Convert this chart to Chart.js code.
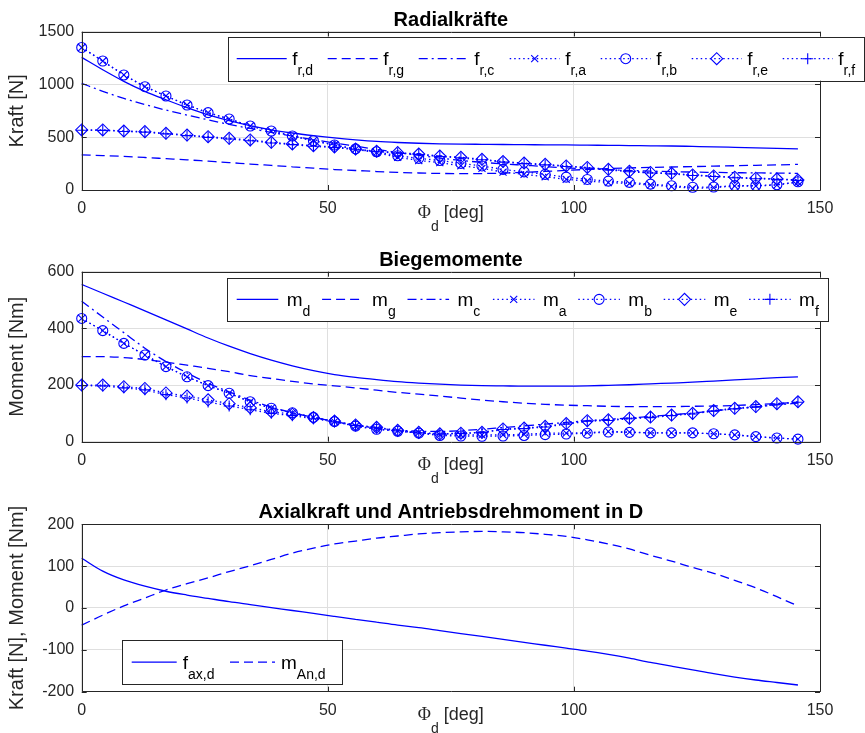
<!DOCTYPE html>
<html lang="de">
<head>
<meta charset="UTF-8">
<title>Radialkräfte, Biegemomente, Axialkraft</title>
<script src="https://cdn.jsdelivr.net/npm/chart.js"></script>
<style>
    body { margin: 0; background: #fff; overflow: hidden; }
    .panel { position: absolute; left: 0; width: 865px; }
</style>
</head>
<body>
<div class="panel" style="top:0;height:244px"><canvas id="c1" width="865" height="244"></canvas></div>
<div class="panel" style="top:244px;height:244px"><canvas id="c2" width="865" height="244"></canvas></div>
<div class="panel" style="top:488px;height:245px"><canvas id="c3" width="865" height="245"></canvas></div>
<script>
// crank angle Phi_d [deg], one value per marker
const phi = [0, 4.28, 8.56, 12.84, 17.12, 21.4, 25.68, 29.96, 34.24, 38.52, 42.8, 47.08, 51.36, 55.64, 59.92,
    64.2, 68.48, 72.76, 77.04, 81.32, 85.6, 89.88, 94.16, 98.44, 102.72, 107, 111.28, 115.56, 119.84,
    124.12, 128.4, 132.68, 136.96, 141.24, 145.52];

// Radialkräfte [N]
const frD = [1257, 1140, 1030, 935, 855, 780, 712, 658, 610, 570, 540, 515, 493, 475, 460, 450, 443, 438, 435, 433, 431, 430, 428, 427, 425, 423, 421, 419, 417, 413, 409, 404, 399, 394, 389];
const frG = [332, 326, 318, 308, 297, 286, 273, 260, 246, 233, 220, 207, 194, 185, 175, 167, 161, 157, 155, 156, 160, 167, 176, 186, 195, 203, 209, 214, 218, 222, 226, 230, 234, 238, 243];
const frC = [1011, 935, 868, 810, 757, 710, 665, 622, 583, 545, 510, 477, 445, 415, 385, 355, 328, 303, 280, 262, 248, 235, 222, 210, 200, 192, 185, 179, 174, 170, 167, 164, 162, 160, 158];
const frA = [1350, 1222, 1090, 979, 891, 805, 733, 673, 606, 559, 512, 467, 426, 386, 354, 310, 280, 259, 230, 205, 170, 149, 126, 101, 85, 70, 62, 47, 32, 16, 22, 38, 38, 47, 75];
const frB = [1350, 1222, 1090, 979, 891, 805, 733, 673, 606, 559, 512, 467, 426, 390, 362, 325, 300, 280, 252, 228, 195, 172, 148, 122, 100, 84, 72, 56, 40, 26, 28, 42, 42, 50, 78];
const frE = [569, 569, 559, 553, 537, 521, 505, 490, 474, 452, 436, 420, 408, 388, 368, 354, 341, 322, 310, 291, 270, 255, 243, 228, 214, 196, 178, 166, 158, 143, 133, 121, 112, 106, 95];
const frF = [566, 565, 555, 548, 532, 515, 499, 483, 467, 445, 430, 414, 402, 382, 363, 349, 336, 317, 304, 286, 264, 250, 238, 223, 209, 191, 173, 161, 153, 138, 128, 116, 107, 101, 90];

// Biegemomente [Nm]
const mD = [555, 524, 493, 462, 430, 398, 366, 337, 311, 288, 268, 251, 237, 227, 219, 212, 207, 203, 200, 198, 197, 196, 196, 196, 197, 199, 201, 204, 207, 210, 214, 218, 222, 226, 229];
const mG = [300, 300, 297, 290, 281, 270, 259, 247, 233, 223, 213, 204, 197, 190, 182, 174, 168, 161, 154, 147, 141, 136, 132, 129, 127, 125, 124, 124, 124, 125, 126, 128, 131, 135, 139];
const mC = [496, 440, 385, 330, 283, 243, 206, 176, 147, 122, 102, 86, 71, 58, 48, 41, 37, 36, 39, 44, 50, 56, 62, 68, 74, 79, 84, 89, 95, 101, 109, 116, 123, 130, 136];
const mA = [435, 392, 347, 306, 265, 229, 198, 171, 141, 118, 102, 86, 71, 55, 44, 38, 32, 24, 24, 24, 24, 26, 30, 30, 32, 36, 34, 31, 31, 31, 28, 24, 18, 13, 9];
const mB = [435, 392, 347, 306, 265, 229, 198, 171, 141, 118, 102, 86, 71, 55, 44, 37, 30, 22, 20, 19, 20, 22, 25, 27, 30, 34, 33, 31, 31, 31, 28, 24, 18, 13, 9];
const mE = [200, 200, 194, 188, 172, 161, 148, 134, 120, 106, 97, 85, 73, 59, 51, 40, 33, 28, 30, 33, 45, 48, 54, 64, 74, 77, 83, 87, 94, 100, 110, 118, 124, 134, 141];
const mF = [198, 197, 190, 183, 166, 154, 140, 126, 113, 100, 92, 81, 70, 57, 49, 38, 31, 27, 29, 32, 43, 46, 52, 62, 72, 75, 81, 85, 92, 98, 108, 116, 122, 132, 139];

// Axialkraft [N] und Antriebsdrehmoment [Nm]
const faxD = [119, 88, 67, 52, 40, 31, 23, 15, 8, 1, -6, -13, -20, -27, -34, -41, -47, -54, -61, -68, -75, -82, -89, -96, -103, -111, -120, -130, -139, -148, -157, -165, -172, -178, -184];
const mAnD = [-41, -17, 5, 24, 43, 58, 72, 87, 101, 116, 131, 143, 153, 160, 167, 172, 177, 180, 182, 183, 182, 180, 176, 171, 163, 153, 141, 126, 112, 97, 83, 66, 48, 27, 5];

const labels1 = ['f_r,d', 'f_r,g', 'f_r,c', 'f_r,a', 'f_r,b', 'f_r,e', 'f_r,f'];
const labels2 = ['m_d', 'm_g', 'm_c', 'm_a', 'm_b', 'm_e', 'm_f'];
const labels3 = ['f_ax,d', 'm_An,d'];
const lineTypes = ['-', '--', '-.', ':', ':', ':', ':'];
const markerTypes = [null, null, null, 'x', 'o', 'd', '+'];

const titles = ['Radialkräfte', 'Biegemomente', 'Axialkraft und Antriebsdrehmoment in D'];
const yTitles = ['Kraft [N]', 'Moment [Nm]', 'Kraft [N], Moment [Nm]'];
const xTicks = [0, 50, 100, 150];
const yTicks1 = [0, 500, 1000, 1500];
const yTicks2 = [0, 200, 400, 600];
const yTicks3 = [-200, -100, 0, 100, 200];

const BLUE = '#0000ff';
const AXIS = '#262626';
const GRID = '#dfdfdf';
const FONT = '"Liberation Sans", Arial, Helvetica, sans-serif';

Chart.defaults.font.family = FONT;
Chart.defaults.color = AXIS;

const dashes = { '-': [], '--': [9, 5], '-.': [9, 4, 2, 4], ':': [1.5, 3] };
const pointStyles = { x: 'crossRot', o: 'circle', d: 'rectRot', '+': 'cross' };
const pointSizes = { x: 5, o: 5, d: 6, '+': 5.5 };

function series(label, values, line, marker) {
    return {
        label: label,
        data: phi.map((x, i) => ({ x: x, y: values[i] })),
        borderColor: BLUE,
        borderWidth: 1.3,
        borderDash: dashes[line],
        fill: false,
        cubicInterpolationMode: marker ? 'default' : 'monotone',
        pointStyle: marker ? pointStyles[marker] : 'circle',
        pointRadius: marker ? pointSizes[marker] : 0,
        pointBorderColor: BLUE,
        pointBackgroundColor: 'rgba(0,0,0,0)',
        pointBorderWidth: 1.1,
        clip: 8,
        marker: marker
    };
}

function drawMarker(ctx, m, x, y) {
    const r = pointSizes[m];
    ctx.beginPath();
    if (m === 'o') {
        ctx.arc(x, y, r, 0, Math.PI * 2);
    } else if (m === 'x') {
        const d = r * Math.SQRT1_2;
        ctx.moveTo(x - d, y - d); ctx.lineTo(x + d, y + d);
        ctx.moveTo(x + d, y - d); ctx.lineTo(x - d, y + d);
    } else if (m === 'd') {
        ctx.moveTo(x - r, y); ctx.lineTo(x, y - r); ctx.lineTo(x + r, y); ctx.lineTo(x, y + r); ctx.closePath();
    } else if (m === '+') {
        ctx.moveTo(x - r, y); ctx.lineTo(x + r, y);
        ctx.moveTo(x, y - r); ctx.lineTo(x, y + r);
    }
    ctx.stroke();
}

// text like "f_r,d" -> main "f" + subscript "r,d"
function drawSubLabel(ctx, text, x, y, mainFont, subFont, subShift) {
    const [main, sub] = text.split('_');
    ctx.font = mainFont;
    ctx.fillText(main, x, y);
    x += ctx.measureText(main).width;
    if (sub) {
        ctx.font = subFont;
        ctx.fillText(sub, x, y + subShift);
        x += ctx.measureText(sub).width;
    }
    return x;
}

const matlabLook = {
    id: 'matlabLook',
    afterDraw(chart, args, o) {
        const ctx = chart.ctx;
        const { left, right, top, bottom } = chart.chartArea;
        const xs = chart.scales.x, ys = chart.scales.y;
        ctx.save();
        ctx.setLineDash([]);

        // axes box with inward ticks
        ctx.strokeStyle = AXIS;
        ctx.lineWidth = 1;
        ctx.beginPath();
        ctx.rect(Math.round(left) + 0.5, Math.round(top) + 0.5, Math.round(right - left), Math.round(bottom - top));
        xs.ticks.forEach(t => {
            const p = Math.round(xs.getPixelForValue(t.value)) + 0.5;
            ctx.moveTo(p, bottom); ctx.lineTo(p, bottom - 5);
            ctx.moveTo(p, top); ctx.lineTo(p, top + 5);
        });
        ys.ticks.forEach(t => {
            const p = Math.round(ys.getPixelForValue(t.value)) + 0.5;
            ctx.moveTo(left, p); ctx.lineTo(left + 5, p);
            ctx.moveTo(right, p); ctx.lineTo(right - 5, p);
        });
        ctx.stroke();

        // title
        ctx.fillStyle = '#000';
        ctx.font = 'bold 20px ' + FONT;
        ctx.textAlign = 'center';
        ctx.textBaseline = 'alphabetic';
        ctx.fillText(o.title, (left + right) / 2, top - 6);

        // x label: Phi_d [deg]
        ctx.textAlign = 'left';
        ctx.fillStyle = AXIS;
        const symFont = '18px "Liberation Serif", serif';
        const subFont = '14px ' + FONT;
        const txtFont = '18px ' + FONT;
        ctx.font = symFont; const w1 = ctx.measureText('Φ').width;
        ctx.font = subFont; const w2 = ctx.measureText('d').width;
        ctx.font = txtFont; const w3 = ctx.measureText(' [deg]').width;
        let lx = (left + right) / 2 - (w1 + w2 + w3) / 2;
        const ly = bottom + 28;
        ctx.font = symFont; ctx.fillText('Φ', lx, ly); lx += w1;
        ctx.font = subFont; ctx.fillText('d', lx, ly + 13); lx += w2;
        ctx.font = txtFont; ctx.fillText(' [deg]', lx, ly);

        // legend box
        const lg = o.legend;
        ctx.fillStyle = '#fff';
        ctx.fillRect(lg.x, lg.y, lg.w, lg.h);
        ctx.strokeStyle = AXIS;
        ctx.strokeRect(Math.round(lg.x) + 0.5, Math.round(lg.y) + 0.5, Math.round(lg.w), Math.round(lg.h));
        const cy = lg.y + lg.h / 2;
        chart.data.datasets.forEach((ds, i) => {
            const x0 = lg.x + lg.pad + i * lg.pitch;
            ctx.strokeStyle = BLUE;
            ctx.lineWidth = 1.3;
            ctx.setLineDash(ds.borderDash);
            ctx.beginPath();
            ctx.moveTo(x0, cy); ctx.lineTo(x0 + lg.line, cy);
            ctx.stroke();
            ctx.setLineDash([]);
            ctx.lineWidth = 1.1;
            if (ds.marker) drawMarker(ctx, ds.marker, x0 + lg.line / 2, cy);
            ctx.fillStyle = '#000';
            drawSubLabel(ctx, ds.label, x0 + lg.line + lg.gap, cy + 6.5, '19px ' + FONT, '14px ' + FONT, 10);
        });
        ctx.restore();
    }
};

function makeChart(id, datasets, yTicks, yTitle, title, pad, legend) {
    new Chart(document.getElementById(id), {
        type: 'line',
        data: { datasets: datasets },
        options: {
            responsive: false,
            animation: false,
            devicePixelRatio: 1,
            layout: { padding: pad },
            plugins: {
                legend: { display: false },
                tooltip: { enabled: false },
                matlabLook: { title: title, legend: legend }
            },
            scales: {
                x: {
                    type: 'linear',
                    min: xTicks[0],
                    max: xTicks[xTicks.length - 1],
                    afterFit: s => { s.height = 30; },
                    ticks: { stepSize: xTicks[1] - xTicks[0], padding: 9, color: AXIS, font: { size: 16 }, maxRotation: 0,
                        callback: v => String(v) },
                    grid: { color: GRID, drawTicks: false },
                    border: { display: false }
                },
                y: {
                    min: yTicks[0],
                    max: yTicks[yTicks.length - 1],
                    afterFit: s => { s.width = 81.7; },
                    ticks: { stepSize: yTicks[1] - yTicks[0], padding: 7.5, color: AXIS, font: { size: 16 },
                        callback: v => String(v) },
                    grid: { color: GRID, drawTicks: false },
                    border: { display: false },
                    title: { display: true, text: yTitle, color: AXIS, font: { size: 20, lineHeight: 1.2 }, padding: { top: 5.5, bottom: 0 } }
                }
            }
        },
        plugins: [matlabLook]
    });
}

const radial = [frD, frG, frC, frA, frB, frE, frF];
const moments = [mD, mG, mC, mA, mB, mE, mF];

makeChart('c1',
    labels1.map((l, i) => series(l, radial[i], lineTypes[i], markerTypes[i])),
    yTicks1, yTitles[0], titles[0],
    { top: 31.7, left: 0, right: 45, bottom: 24 },
    { x: 227.7, y: 36.7, w: 636, h: 44, pad: 9, line: 50, gap: 5.6, pitch: 91 });

makeChart('c2',
    labels2.map((l, i) => series(l, moments[i], lineTypes[i], markerTypes[i])),
    yTicks2, yTitles[1], titles[1],
    { top: 27.7, left: 0, right: 45, bottom: 16.3 },
    { x: 226.7, y: 33.7, w: 600.6, h: 43.3, pad: 10, line: 41.6, gap: 8.4, pitch: 85.4 });

makeChart('c3',
    [series(labels3[0], faxD, '-', null), series(labels3[1], mAnD, '--', null)],
    yTicks3, yTitles[2], titles[2],
    { top: 36.3, left: 0, right: 45, bottom: 11.3 },
    { x: 121.7, y: 152, w: 220, h: 44.3, pad: 10, line: 45, gap: 6, pitch: 98.3 });
</script>
</body>
</html>
